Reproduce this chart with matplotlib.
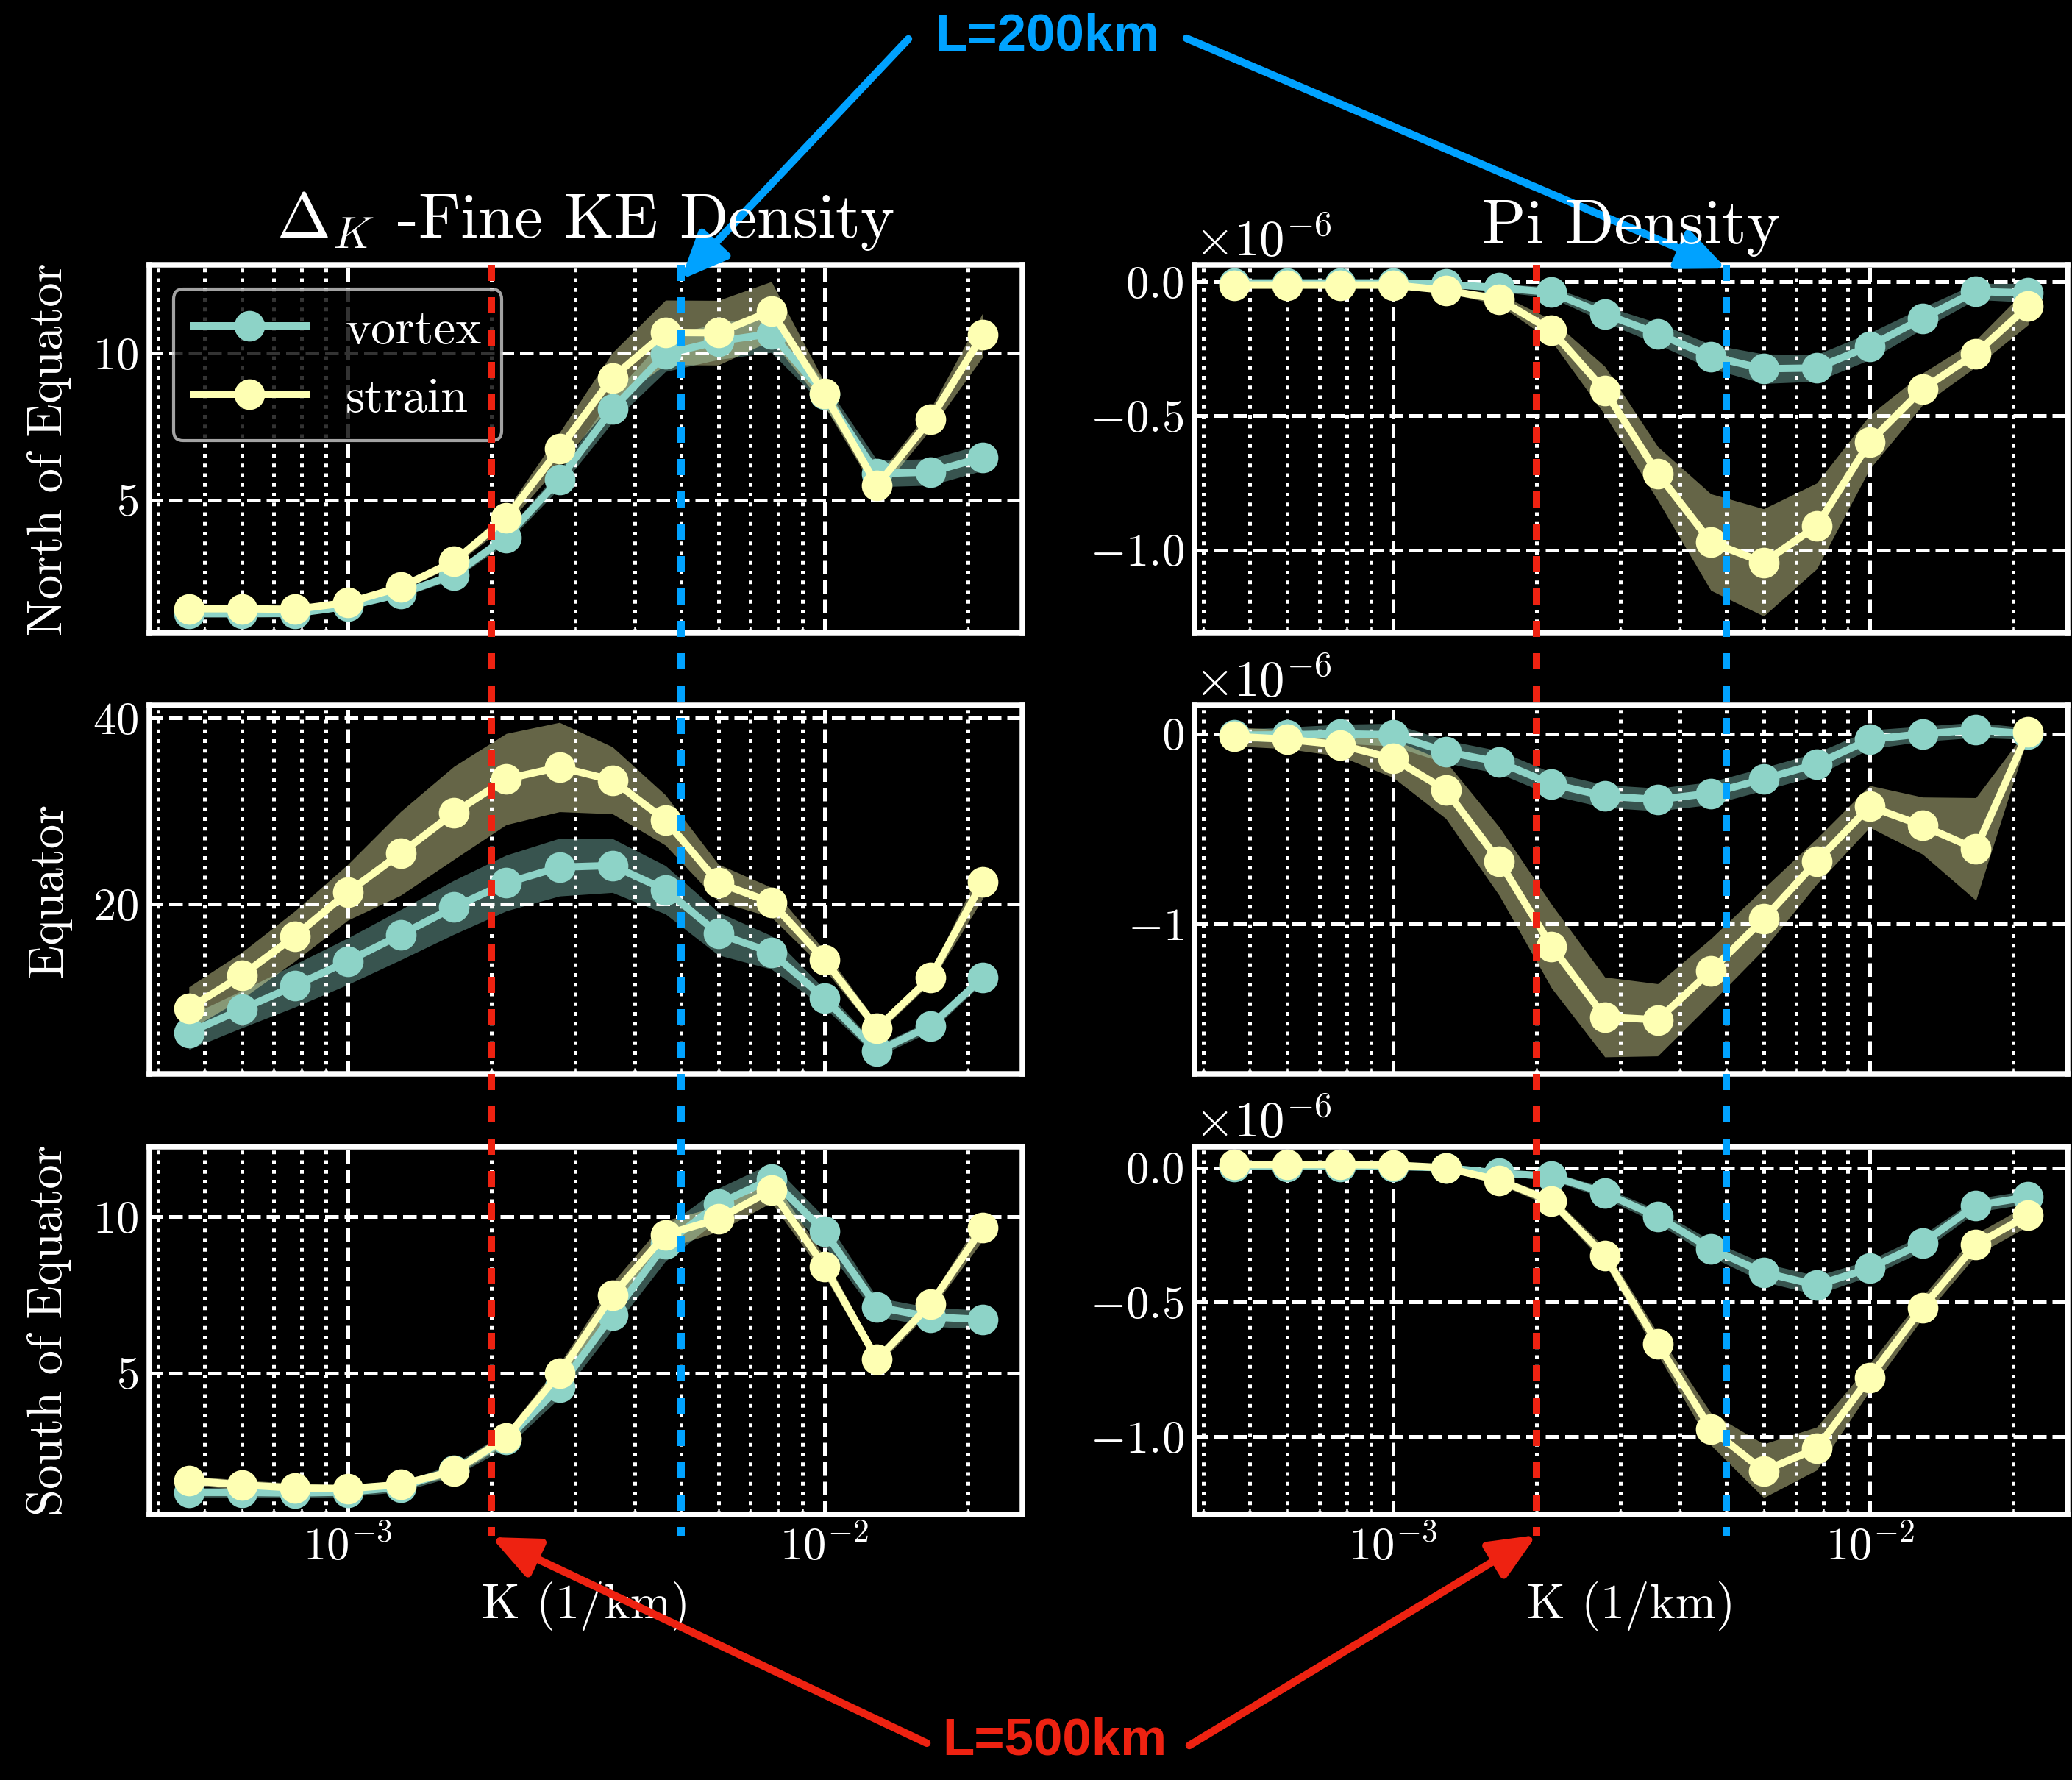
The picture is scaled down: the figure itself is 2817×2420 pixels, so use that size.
import matplotlib.pyplot as plt
import numpy as np
from matplotlib import transforms
from matplotlib.lines import Line2D

plt.style.use('dark_background')
plt.rcParams.update({
    'font.family': 'serif',
    'font.serif': ['cmr10'],
    'mathtext.fontset': 'cm',
    'axes.formatter.use_mathtext': True,
    'axes.unicode_minus': True,
    'xtick.direction': 'in',
    'ytick.direction': 'in',
})

# wavenumber bins (1/km)
K = [4.64e-4, 5.99e-4, 7.74e-4, 1.00e-3, 1.29e-3, 1.67e-3, 2.15e-3, 2.78e-3,
     3.59e-3, 4.64e-3, 5.99e-3, 7.74e-3, 1.00e-2, 1.29e-2, 1.67e-2, 2.15e-2]

# fine-scale KE density, north of equator
north_ke_vortex = [1.13, 1.13, 1.14, 1.38, 1.81, 2.45, 3.73, 5.70,
                   8.09, 9.97, 10.40, 10.66, 8.60, 5.90, 5.95, 6.45]
north_ke_vortex_err = [0.08, 0.08, 0.08, 0.10, 0.12, 0.15, 0.20, 0.30,
                       0.45, 0.60, 0.62, 0.64, 0.40, 0.45, 0.45, 0.45]
north_ke_strain = [1.30, 1.30, 1.28, 1.51, 2.03, 2.91, 4.39, 6.74,
                   9.16, 10.70, 10.69, 11.43, 8.61, 5.49, 7.75, 10.62]
north_ke_strain_err = [0.08, 0.08, 0.08, 0.10, 0.12, 0.15, 0.25, 0.55,
                       0.85, 1.10, 1.10, 1.00, 0.40, 0.30, 0.35, 0.75]

# fine-scale KE density, equator
eq_ke_vortex = [6.18, 8.69, 11.22, 13.85, 16.69, 19.65, 22.26, 23.96,
                24.14, 21.53, 16.82, 14.80, 9.87, 4.17, 6.91, 12.10]
eq_ke_vortex_err = [1.8, 2.0, 2.3, 2.5, 2.7, 2.9, 3.0, 3.1,
                    2.9, 2.6, 2.3, 1.8, 1.0, 0.6, 0.6, 0.6]
eq_ke_strain = [8.80, 12.30, 16.55, 21.26, 25.43, 29.80, 33.43, 34.72,
                33.30, 29.02, 22.28, 20.19, 14.00, 6.64, 12.10, 22.40]
eq_ke_strain_err = [2.3, 2.5, 2.7, 3.0, 4.5, 5.0, 4.9, 4.8,
                    3.6, 2.7, 2.0, 1.6, 1.0, 0.6, 0.6, 1.8]

# fine-scale KE density, south of equator
south_ke_vortex = [1.19, 1.19, 1.17, 1.20, 1.36, 1.90, 2.87, 4.55,
                   6.84, 9.12, 10.40, 11.20, 9.52, 7.11, 6.79, 6.71]
south_ke_vortex_err = [0.15, 0.15, 0.15, 0.15, 0.15, 0.20, 0.25, 0.35,
                       0.45, 0.55, 0.50, 0.50, 0.45, 0.30, 0.30, 0.30]
south_ke_strain = [1.57, 1.43, 1.33, 1.31, 1.44, 1.87, 2.93, 4.99,
                   7.48, 9.42, 9.92, 10.84, 8.41, 5.43, 7.20, 9.64]
south_ke_strain_err = [0.15, 0.15, 0.15, 0.12, 0.12, 0.15, 0.20, 0.30,
                       0.40, 0.45, 0.40, 0.40, 0.30, 0.20, 0.20, 0.40]

# Pi density (units of 1e-6), north of equator
north_pi_vortex = [-0.005, -0.005, -0.005, -0.005, -0.010, -0.023, -0.040, -0.121,
                   -0.194, -0.279, -0.325, -0.322, -0.241, -0.137, -0.037, -0.042]
north_pi_vortex_err = [0.005, 0.005, 0.005, 0.005, 0.008, 0.015, 0.020, 0.030,
                       0.040, 0.045, 0.055, 0.050, 0.050, 0.040, 0.030, 0.035]
north_pi_strain = [-0.013, -0.013, -0.013, -0.013, -0.032, -0.066, -0.182, -0.406,
                   -0.715, -0.971, -1.047, -0.911, -0.598, -0.401, -0.268, -0.091]
north_pi_strain_err = [0.005, 0.005, 0.005, 0.005, 0.010, 0.020, 0.040, 0.090,
                       0.100, 0.180, 0.200, 0.160, 0.100, 0.060, 0.050, 0.070]

# Pi density (units of 1e-6), equator
eq_pi_vortex = [-0.007, -0.005, 0.000, -0.005, -0.094, -0.149, -0.264, -0.328,
                -0.346, -0.313, -0.238, -0.159, -0.030, 0.000, 0.020, 0.000]
eq_pi_vortex_err = [0.03, 0.04, 0.05, 0.06, 0.06, 0.06, 0.06, 0.06,
                    0.06, 0.06, 0.06, 0.06, 0.05, 0.04, 0.04, 0.03]
eq_pi_strain = [-0.014, -0.029, -0.058, -0.130, -0.296, -0.671, -1.118, -1.490,
                -1.505, -1.248, -0.974, -0.671, -0.382, -0.483, -0.606, 0.010]
eq_pi_strain_err = [0.05, 0.05, 0.06, 0.10, 0.15, 0.18, 0.22, 0.21,
                    0.19, 0.17, 0.16, 0.12, 0.11, 0.15, 0.27, 0.02]

# Pi density (units of 1e-6), south of equator
south_pi_vortex = [0.005, 0.005, 0.005, 0.005, 0.000, -0.020, -0.031, -0.094,
                   -0.182, -0.301, -0.390, -0.437, -0.374, -0.281, -0.140, -0.109]
south_pi_vortex_err = [0.005, 0.005, 0.005, 0.005, 0.010, 0.010, 0.015, 0.020,
                       0.025, 0.030, 0.035, 0.035, 0.030, 0.030, 0.025, 0.025]
south_pi_strain = [0.012, 0.012, 0.012, 0.010, 0.000, -0.047, -0.125, -0.327,
                   -0.655, -0.972, -1.128, -1.045, -0.780, -0.520, -0.286, -0.177]
south_pi_strain_err = [0.005, 0.005, 0.005, 0.005, 0.010, 0.015, 0.020, 0.030,
                       0.040, 0.060, 0.100, 0.080, 0.050, 0.040, 0.040, 0.040]

regions = ['North of Equator', 'Equator', 'South of Equator']
ke_rows = [
    (north_ke_vortex, north_ke_vortex_err, north_ke_strain, north_ke_strain_err, [5, 10]),
    (eq_ke_vortex, eq_ke_vortex_err, eq_ke_strain, eq_ke_strain_err, [20, 40]),
    (south_ke_vortex, south_ke_vortex_err, south_ke_strain, south_ke_strain_err, [5, 10]),
]
pi_rows = [
    (north_pi_vortex, north_pi_vortex_err, north_pi_strain, north_pi_strain_err, [0.0, -0.5, -1.0]),
    (eq_pi_vortex, eq_pi_vortex_err, eq_pi_strain, eq_pi_strain_err, [0, -1]),
    (south_pi_vortex, south_pi_vortex_err, south_pi_strain, south_pi_strain_err, [0.0, -0.5, -1.0]),
]

# filter scales marked on the spectra
L_small = 200.0  # km
L_large = 500.0  # km
c_small = '#00a2ff'
c_large = '#ee2211'

c_vortex = '#8dd3c7'
c_strain = '#feffb3'

fig, axes = plt.subplots(3, 2, sharex=True, figsize=(2817 / 300, 2420 / 300))
fig.subplots_adjust(left=0.072, right=0.998, top=0.8512, bottom=0.1492,
                    wspace=0.197, hspace=0.198)


def draw_panel(ax, vortex, vortex_err, strain, strain_err, scale=1.0):
    v = np.array(vortex) * scale
    ve = np.array(vortex_err) * scale
    s = np.array(strain) * scale
    se = np.array(strain_err) * scale
    ax.fill_between(K, v - ve, v + ve, color=c_vortex, alpha=0.4, lw=0)
    ax.fill_between(K, s - se, s + se, color=c_strain, alpha=0.4, lw=0)
    ax.plot(K, v, 'o-', color=c_vortex, lw=2.4, ms=9, label='vortex')
    ax.plot(K, s, 'o-', color=c_strain, lw=2.4, ms=9, label='strain')


for row in range(3):
    ax_l = axes[row, 0]
    ax_r = axes[row, 1]

    vort, vort_err, strn, strn_err, yt = ke_rows[row]
    draw_panel(ax_l, vort, vort_err, strn, strn_err)
    ax_l.set_yticks(yt)
    ax_l.set_ylabel(regions[row], fontsize=16, labelpad=7)

    vort, vort_err, strn, strn_err, yt = pi_rows[row]
    draw_panel(ax_r, vort, vort_err, strn, strn_err, scale=1e-6)
    ax_r.set_yticks(np.array(yt) * 1e-6)
    ax_r.yaxis.get_offset_text().set_fontsize(16.5)

for ax in axes.flat:
    ax.set_xscale('log')
    ax.grid(which='major', ls='--', lw=1.2, color='white')
    ax.grid(which='minor', axis='x', ls=':', lw=1.2, color='white')
    ax.tick_params(labelsize=15)
    for sp in ax.spines.values():
        sp.set_linewidth(1.8)

axes[0, 0].set_title(r'$\Delta_K$ -Fine KE Density', fontsize=21, pad=9)
axes[0, 1].set_title('Pi Density', fontsize=21, pad=7)
for ax in axes[2]:
    ax.set_xlabel('K (1/km)', fontsize=16)

axes[0, 0].legend(loc='upper left', fontsize=16, handlelength=2.3)

# dashed markers for the two filter scales, running through all rows
y_top = axes[0, 0].get_position().y1
y_bot = 0.137
for col in range(2):
    trans = transforms.blended_transform_factory(axes[0, col].transData, fig.transFigure)
    for L, c in [(L_large, c_large), (L_small, c_small)]:
        fig.add_artist(Line2D([1 / L, 1 / L], [y_top, y_bot], transform=trans,
                              color=c, lw=2.4, dashes=(2.2, 2.2)))

arrow_kw = dict(arrowstyle='-|>,head_length=0.8,head_width=0.35', lw=2.5,
                mutation_scale=16, shrinkA=0, shrinkB=0)

fig.text(0.5055, 0.979, 'L=200km', color=c_small, fontsize=17, fontweight='bold',
         family='Liberation Sans', ha='center', va='center')
axes[0, 0].annotate('', xy=(1 / L_small, 0.96), xycoords=('data', 'axes fraction'),
                    xytext=(0.4384, 0.9781), textcoords='figure fraction',
                    arrowprops=dict(color=c_small, **arrow_kw), annotation_clip=False)
axes[0, 1].annotate('', xy=(1 / L_small, 0.99), xycoords=('data', 'axes fraction'),
                    xytext=(0.5726, 0.9785), textcoords='figure fraction',
                    arrowprops=dict(color=c_small, **arrow_kw), annotation_clip=False)

fig.text(0.509, 0.0219, 'L=500km', color=c_large, fontsize=17, fontweight='bold',
         family='Liberation Sans', ha='center', va='center')
axes[2, 0].annotate('', xy=(1 / L_large, 0.1364), xycoords=('data', 'figure fraction'),
                    xytext=(0.4473, 0.0207), textcoords='figure fraction',
                    arrowprops=dict(color=c_large, **arrow_kw), annotation_clip=False)
axes[2, 1].annotate('', xy=(1 / L_large, 0.1376), xycoords=('data', 'figure fraction'),
                    xytext=(0.574, 0.0194), textcoords='figure fraction',
                    arrowprops=dict(color=c_large, **arrow_kw), annotation_clip=False)

fig.savefig('out.png', dpi=300)
